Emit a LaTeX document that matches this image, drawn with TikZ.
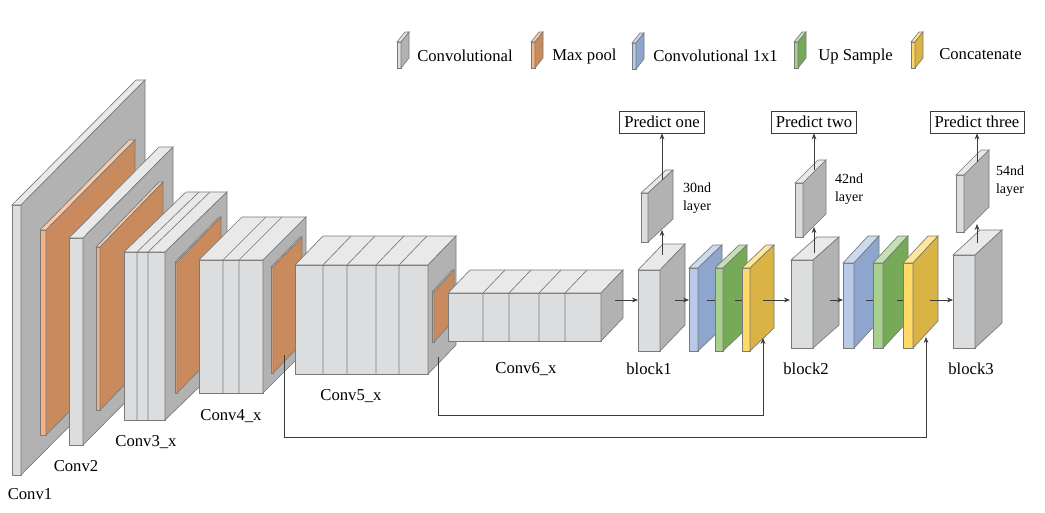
\documentclass[tikz,border=0pt]{standalone}
\usepackage{fontspec}
\setmainfont{Liberation Serif}
\usetikzlibrary{arrows.meta}
\definecolor{edge}{HTML}{7A7A7A}
\definecolor{lineC}{HTML}{3C3C3C}
\definecolor{grayfront}{HTML}{DCDDDE}
\definecolor{graytop}{HTML}{E9E9E9}
\definecolor{grayside}{HTML}{B2B2B2}
\definecolor{orafront}{HTML}{F4B183}
\definecolor{oratop}{HTML}{F8CBAD}
\definecolor{oraside}{HTML}{C98B5E}
\definecolor{blufront}{HTML}{B8CAE8}
\definecolor{blutop}{HTML}{CCDAF0}
\definecolor{bluside}{HTML}{8EA6CD}
\definecolor{grnfront}{HTML}{A9D18E}
\definecolor{grntop}{HTML}{C5E0B4}
\definecolor{grnside}{HTML}{76AA58}
\definecolor{yelfront}{HTML}{FFD966}
\definecolor{yeltop}{HTML}{FFE699}
\definecolor{yelside}{HTML}{D9B343}
% x1 y1 x2 y2 dx dy colourprefix
\newcommand\slabbox[7]{%
  \filldraw[fill=#7front,draw=edge,line width=0.5pt] (#1,#2) rectangle (#3,#4);
  \filldraw[fill=#7top,draw=edge,line width=0.5pt] (#1,#2) -- (#3,#2) -- ++(#5,-#6) -- ++(#1-#3,0) -- cycle;
  \filldraw[fill=#7side,draw=edge,line width=0.5pt] (#3,#2) -- ++(#5,-#6) -- ++(0,#4-#2) -- (#3,#4) -- cycle;
}
% divisions list, y1, y2, dx, dy
\newcommand\slabdivs[5]{%
  \foreach \d in {#1} {\draw[edge,line width=0.5pt] (\d,#2) -- (\d,#3) (\d,#2) -- ++(#4,-#5);}
}
\tikzset{
  conn/.style={draw=lineC,line width=0.6pt},
  arr/.style={conn,-{Stealth[length=4.5pt,width=3.6pt]}},
  lbl/.style={font=\fontsize{12.5}{14}\selectfont,inner sep=0pt},
  small/.style={font=\fontsize{10.5}{13}\selectfont,inner sep=0pt,align=center},
  predbox/.style={draw=lineC,line width=0.6pt,fill=white,font=\fontsize{12.5}{14}\selectfont,minimum height=16.5pt,inner xsep=3.5pt,inner ysep=0pt},
  legtxt/.style={lbl,anchor=west}
}
\begin{document}
\begin{tikzpicture}[x=0.75pt,y=-0.75pt]
\fill[white] (0,0) rectangle (1045,512);
\useasboundingbox (0,0) rectangle (1045,512);

% ---- legend ----
\slabbox{397}{42}{401}{68}{8}{10}{gray}
\node[legtxt] (lg1) at (417,56) {Convolutional};
\slabbox{531}{42}{535}{68}{8}{10}{ora}
\node[legtxt] (lg2) at (552,56) {Max pool};
\slabbox{632}{43}{636}{69}{8}{10}{blu}
\node[legtxt] (lg3) at (653,56) {Convolutional 1x1};
\slabbox{794}{42}{798}{68}{8}{10}{grn}
\node[legtxt] (lg4) at (818,56) {Up Sample};
\slabbox{911}{42}{915}{68}{8}{10}{yel}
\node[legtxt] (lg5) at (939,54) {Concatenate};

% ---- backbone ----
\slabbox{12}{205}{21}{475}{124}{125}{gray}
\slabbox{40}{230}{46}{435}{89}{90}{ora}
\slabbox{69}{238}{83}{445}{90}{91}{gray}
\slabbox{96}{247}{100}{410}{63}{65}{ora}
\slabbox{124}{252}{165}{420}{62}{60}{gray}
\slabdivs{137,148}{252}{420}{62}{60}
\slabbox{175}{262}{177}{393}{44}{45}{ora}
\slabbox{199}{260}{263}{393}{43}{43}{gray}
\slabdivs{223,239}{260}{393}{43}{43}
\slabbox{271}{267}{273}{373}{29}{30}{ora}
\slabbox{295}{265}{428}{374}{28}{29}{gray}
\slabdivs{323,347,376,399}{265}{374}{28}{29}
\slabbox{432}{292}{434}{342}{20}{22}{ora}
\slabbox{448}{293}{601}{341}{22}{23}{gray}
\slabdivs{483,509,539,565}{293}{341}{22}{23}

% ---- heads ----
\slabbox{638}{270}{660}{351}{25}{26}{gray}
\slabbox{689}{268}{698}{351}{24}{23}{blu}
\slabbox{715}{268}{723}{351}{24}{23}{grn}
\slabbox{742}{268}{750}{351}{24}{23}{yel}
\slabbox{641}{193}{648}{242}{25}{23}{gray}

\slabbox{791}{260}{813}{348}{26}{23}{gray}
\slabbox{843}{263}{854}{348}{25}{27}{blu}
\slabbox{873}{263}{883}{348}{25}{27}{grn}
\slabbox{903}{263}{913}{348}{25}{27}{yel}
\slabbox{795}{183}{803}{237}{23}{23}{gray}

\slabbox{953}{255}{975}{348}{27}{25}{gray}
\slabbox{956}{175}{964}{232}{25}{25}{gray}

% ---- predict boxes ----
\node[predbox] (p1) at (662,122) {Predict one};
\node[predbox] (p2) at (814,122) {Predict two};
\node[predbox] (p3) at (977,122) {Predict three};

% ---- connector end points ----
\coordinate (c6o) at (615,300);  \coordinate (b1i) at (638,300);
\coordinate (b1o) at (675,300);  \coordinate (u1i) at (689,300);
\coordinate (u1o) at (707,300);  \coordinate (g1i) at (715,300);
\coordinate (g1o) at (735,300);  \coordinate (y1i) at (742,300);
\coordinate (y1o) at (763,300);  \coordinate (b2i) at (790,300);
\coordinate (b2o) at (830,300);  \coordinate (u2i) at (843,300);
\coordinate (u2o) at (866,300);  \coordinate (g2i) at (873,300);
\coordinate (g2o) at (897,300);  \coordinate (y2i) at (903,300);
\coordinate (y2o) at (930,300);  \coordinate (b3i) at (953,300);
\coordinate (b1t) at (662,255);  \coordinate (l1b) at (662,230);
\coordinate (l1t) at (662,180);
\coordinate (b2t) at (814,253);  \coordinate (l2b) at (814,227);
\coordinate (l2t) at (814,170);
\coordinate (b3t) at (977,243);  \coordinate (l3b) at (977,224);
\coordinate (l3t) at (977,162);
\coordinate (s5) at (438,357);   \coordinate (y1b) at (763,338);
\coordinate (s4) at (284,355);   \coordinate (y2b) at (926,337);

\draw[arr] (c6o) -- (b1i);
\draw[arr] (b1o) -- (u1i);
\draw[conn] (u1o) -- (g1i);
\draw[conn] (g1o) -- (y1i);
\draw[arr] (y1o) -- (b2i);
\draw[arr] (b2o) -- (u2i);
\draw[conn] (u2o) -- (g2i);
\draw[conn] (g2o) -- (y2i);
\draw[arr] (y2o) -- (b3i);

\draw[arr] (b1t) -- (l1b);
\draw[arr] (l1t) -- (p1.south);
\draw[arr] (b2t) -- (l2b);
\draw[arr] (l2t) -- (p2.south);
\draw[arr] (b3t) -- (l3b);
\draw[arr] (l3t) -- (p3.south);

\draw[arr] (s5) |- (763,415) -- (y1b);
\draw[arr] (s4) |- (926,437) -- (y2b);

% ---- labels ----
\node[lbl] (t1) at (30,494) {Conv1};
\node[lbl] (t2) at (76,466) {Conv2};
\node[lbl] (t3) at (146,442) {Conv3\_x};
\node[lbl] (t4) at (231,416) {Conv4\_x};
\node[lbl] (t5) at (351,396) {Conv5\_x};
\node[lbl] (t6) at (526,369) {Conv6\_x};
\node[lbl] (tb1) at (649,369) {block1};
\node[lbl] (tb2) at (806,369) {block2};
\node[lbl] (tb3) at (971,369) {block3};
\node[small] (n1) at (697,198) {30nd\\layer};
\node[small] (n2) at (849,189) {42nd\\layer};
\node[small] (n3) at (1010,181) {54nd\\layer};
\end{tikzpicture}
\end{document}
